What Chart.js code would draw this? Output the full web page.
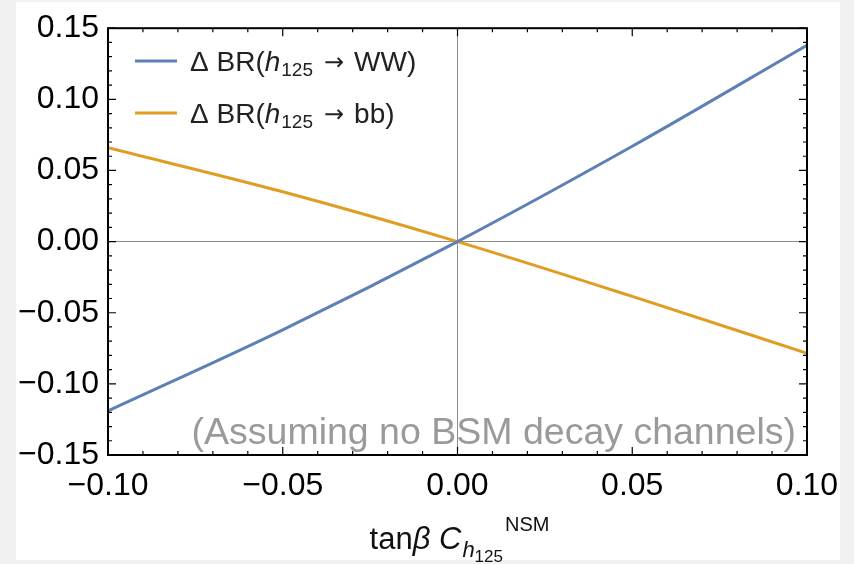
<!DOCTYPE html>
<html>
<head>
<meta charset="utf-8">
<script src="https://cdn.jsdelivr.net/npm/chart.js@4.4.1/dist/chart.umd.min.js"></script>
<style>
  html, body { margin: 0; padding: 0; background: #f1f1f1; }
  #panel { position: absolute; left: 16px; top: 2px; width: 824px; height: 558px; background: #fff; }
  #wrap { position: absolute; left: 0; top: 0; width: 854px; height: 564px; }
</style>
</head>
<body>
<div id="panel"></div>
<div id="wrap"><canvas id="brChart" width="854" height="564"></canvas></div>
<script>
// tanβ C_h125^NSM
const xValues = [-0.10, -0.05, 0.00, 0.05, 0.10];
// ΔBR(h125 → WW) and ΔBR(h125 → bb)
const deltaWW = [-0.119, -0.062, 0.000, 0.067, 0.138];
const deltaBB = [0.066, 0.035, 0.000, -0.0385, -0.0785];

const xTicks = [-0.10, -0.05, 0.00, 0.05, 0.10];
const yTicks = [-0.15, -0.10, -0.05, 0.00, 0.05, 0.10, 0.15];

const FONT = "'Liberation Sans', Arial, sans-serif";
const ARROW_FONT = "'DejaVu Sans', sans-serif";
const BLUE = "#5e81b5";
const ORANGE = "#e19c24";

function fmt(v) {
    if (Math.abs(v) < 1e-9) return "0.00";
    return v.toFixed(2).replace("-", "\u2212");
}

function points(ys) {
    return xValues.map((x, i) => ({ x: x, y: ys[i] }));
}

// draws a run of text pieces with their own fonts and baseline shifts
function drawRuns(ctx, runs, x, y) {
    runs.forEach(r => {
        ctx.font = r.font;
        ctx.fillText(r.text, x, y + (r.dy || 0));
        x += ctx.measureText(r.text).width + (r.gap || 0);
    });
    return x;
}
function runsWidth(ctx, runs) {
    let w = 0;
    runs.forEach(r => { ctx.font = r.font; w += ctx.measureText(r.text).width + (r.gap || 0); });
    return w;
}

// frame with inward ticks on all four sides
const framePlugin = {
    id: "frame",
    afterDatasetsDraw(chart) {
        const { ctx, chartArea: a, scales } = chart;
        ctx.save();
        ctx.strokeStyle = "#000";
        ctx.lineWidth = 1.2;
        ctx.beginPath();
        for (let i = -10; i <= 10; i++) {
            const px = scales.x.getPixelForValue(i / 100);
            const len = i % 5 === 0 ? 8 : 4;
            ctx.moveTo(px, a.bottom); ctx.lineTo(px, a.bottom - len);
            ctx.moveTo(px, a.top); ctx.lineTo(px, a.top + len);
        }
        for (let i = -15; i <= 15; i++) {
            const py = scales.y.getPixelForValue(i / 100);
            const len = i % 5 === 0 ? 8 : 4;
            ctx.moveTo(a.left, py); ctx.lineTo(a.left + len, py);
            ctx.moveTo(a.right, py); ctx.lineTo(a.right - len, py);
        }
        ctx.stroke();
        ctx.lineWidth = 2;
        ctx.strokeRect(a.left, a.top, a.right - a.left, a.bottom - a.top);
        ctx.restore();
    }
};

// legend, note and axis title with italics / sub- and superscripts
const textPlugin = {
    id: "texts",
    afterDraw(chart) {
        const { ctx, chartArea: a } = chart;
        ctx.save();
        ctx.textBaseline = "alphabetic";
        ctx.textAlign = "left";

        const items = [
            { color: BLUE, tail: "WW)", y: 61 },
            { color: ORANGE, tail: "bb)", y: 113 }
        ];
        items.forEach(it => {
            ctx.strokeStyle = it.color;
            ctx.lineWidth = 3;
            ctx.beginPath();
            ctx.moveTo(135, it.y); ctx.lineTo(177, it.y);
            ctx.stroke();
            ctx.fillStyle = "#222";
            drawRuns(ctx, [
                { text: "\u0394 BR(", font: "28px " + FONT },
                { text: "h", font: "italic 28px " + FONT, gap: 1 },
                { text: "125", font: "19px " + FONT, dy: 5, gap: 11 },
                { text: "\u2192", font: "24px " + ARROW_FONT, dy: -1, gap: 10 },
                { text: it.tail, font: "28px " + FONT }
            ], 190, it.y + 10);
        });

        ctx.fillStyle = "#9a9a9a";
        ctx.font = "37.5px " + FONT;
        ctx.textAlign = "right";
        ctx.fillText("(Assuming no BSM decay channels)", a.right - 11, 444);

        ctx.textAlign = "left";
        ctx.fillStyle = "#111";
        const title = [
            { text: "tan", font: "31px " + FONT },
            { text: "\u03b2 ", font: "italic 31px " + FONT },
            { text: "C", font: "italic 31px " + FONT, gap: 1 },
            { text: "h", font: "italic 22px " + FONT, dy: 8 },
            { text: "125", font: "17px " + FONT, dy: 13, gap: 2 },
            { text: "NSM", font: "20px " + FONT, dy: -18 }
        ];
        const w = runsWidth(ctx, title);
        drawRuns(ctx, title, (a.left + a.right) / 2 - w / 2 + 2, 549);
        ctx.restore();
    }
};

new Chart(document.getElementById("brChart"), {
    type: "line",
    data: {
        datasets: [{
            label: "\u0394 BR(h125 \u2192 WW)",
            data: points(deltaWW),
            borderColor: BLUE,
            borderWidth: 3,
            pointRadius: 0,
            cubicInterpolationMode: "monotone"
        }, {
            label: "\u0394 BR(h125 \u2192 bb)",
            data: points(deltaBB),
            borderColor: ORANGE,
            borderWidth: 3,
            pointRadius: 0,
            cubicInterpolationMode: "monotone"
        }]
    },
    options: {
        responsive: false,
        animation: false,
        layout: { padding: { top: 23, right: 47, left: 0, bottom: 0 } },
        plugins: { legend: { display: false }, tooltip: { enabled: false } },
        scales: {
            x: {
                type: "linear",
                min: -0.1,
                max: 0.1,
                afterFit: s => { s.height = 109; },
                afterBuildTicks: s => { s.ticks = xTicks.map(v => ({ value: v })); },
                ticks: {
                    callback: v => fmt(v),
                    font: { family: FONT, size: 32 },
                    color: "#000",
                    padding: 12,
                    maxRotation: 0
                },
                grid: {
                    drawTicks: false,
                    color: c => (c.tick && Math.abs(c.tick.value) < 1e-9) ? "#8c8c8c" : "transparent",
                    lineWidth: 1
                },
                border: { display: false }
            },
            y: {
                min: -0.15,
                max: 0.15,
                afterFit: s => { s.width = 108; },
                afterBuildTicks: s => { s.ticks = yTicks.map(v => ({ value: v })); },
                ticks: {
                    callback: v => fmt(v),
                    font: { family: FONT, size: 32 },
                    color: "#000",
                    padding: 9
                },
                grid: {
                    drawTicks: false,
                    color: c => (c.tick && Math.abs(c.tick.value) < 1e-9) ? "#8c8c8c" : "transparent",
                    lineWidth: 1
                },
                border: { display: false }
            }
        }
    },
    plugins: [framePlugin, textPlugin]
});
</script>
</body>
</html>
